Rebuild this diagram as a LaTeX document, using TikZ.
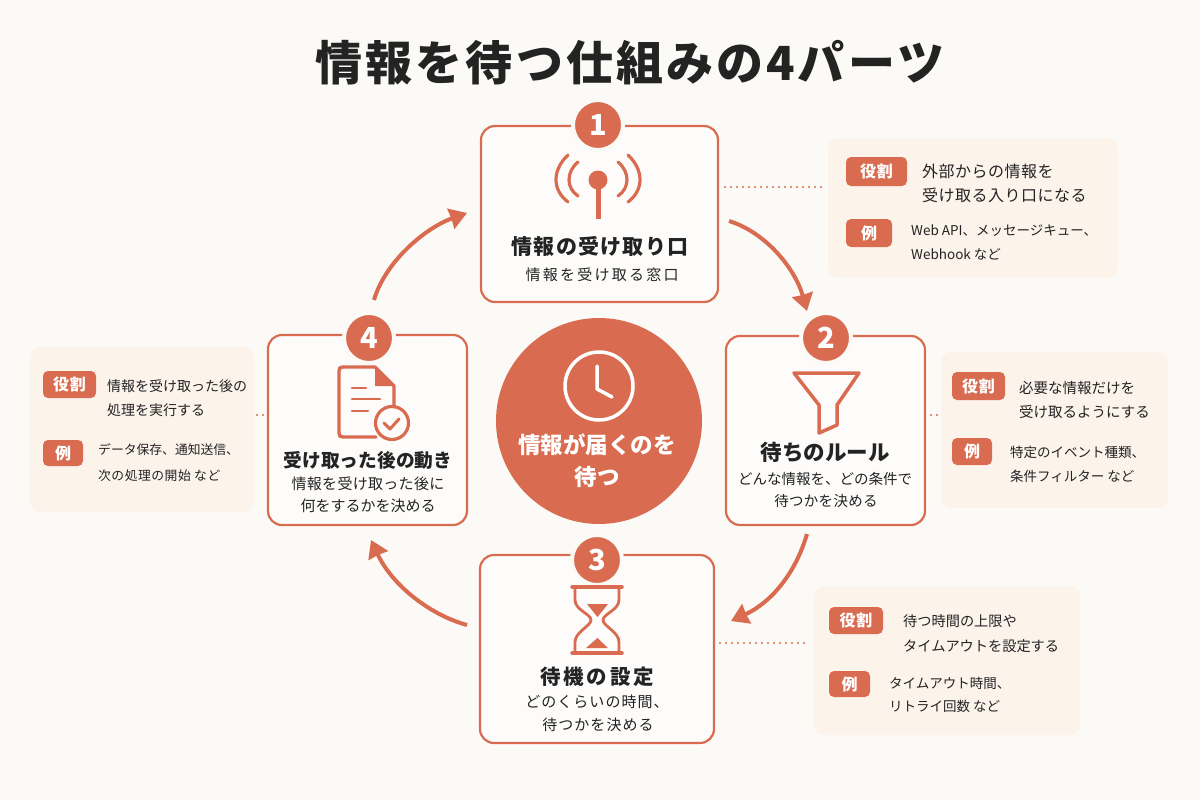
\documentclass[tikz,border=0pt]{standalone}
\usepackage{fontspec}
\setmainfont{Noto Sans CJK JP}
\usetikzlibrary{arrows.meta}
\definecolor{bgc}{HTML}{FCFAF6}
\definecolor{acc}{HTML}{D96C50}
\definecolor{panelc}{HTML}{FCF3EB}
\definecolor{inkc}{HTML}{232323}
\newcommand{\fs}[1]{\fontsize{#1}{#1}\selectfont}
\newcommand{\ls}[1]{\addfontfeatures{LetterSpace=#1}}
\tikzset{
  x=1pt,y=-1pt,
  card/.style={draw=acc,line width=2.2pt,fill=white,fill opacity=0.55,text opacity=1,rounded corners=14pt,inner sep=0pt},
  badge/.style={circle,fill=acc,draw=bgc,line width=4pt,text=white,inner sep=0pt,minimum size=50pt,font=\fs{29}\bfseries},
  panel/.style={fill=panelc,rounded corners=10pt,inner sep=0pt},
  tag/.style={fill=acc,text=white,rounded corners=5pt,inner sep=0pt,font=\fs{16}\bfseries\ls{5}},
  cardtitle/.style={text=inkc,inner sep=0pt},
  cardsub/.style={text=inkc,align=center,inner sep=0pt,text height=11pt},
  roletext/.style={text=inkc,align=left,anchor=west,inner sep=0pt},
  extext/.style={text=inkc,font=\fs{13.5},align=left,anchor=west,inner sep=0pt},
  flow/.style={draw=acc,line width=4pt,-{Stealth[length=17pt,width=21pt,inset=0.5pt]}},
  dots/.style={draw=acc,line width=2.4pt,line cap=round,dash pattern=on 0pt off 6pt},
  icon/.style={draw=acc,line width=3.5pt,line cap=round,line join=round},
}
\begin{document}
\begin{tikzpicture}
\useasboundingbox (0,0) rectangle (1200,800);
\fill[bgc] (0,0) rectangle (1200,800);
\node[text=inkc,inner sep=0pt,font=\fs{47}\bfseries\ls{6.5}] (title) at (630,63) {情報を待つ仕組みの4パーツ};
% panels
\node[panel,minimum width=290pt,minimum height=140pt] (p1) at (973,208) {};
\node[panel,minimum width=227pt,minimum height=156pt] (p2) at (1054.5,430) {};
\node[panel,minimum width=266pt,minimum height=149pt] (p3) at (947,660.5) {};
\node[panel,minimum width=224pt,minimum height=165pt] (p4) at (142,429.5) {};
% cards
\node[card,minimum width=237pt,minimum height=176pt] (c1) at (599.5,214) {};
\node[card,minimum width=199pt,minimum height=189pt] (c2) at (825.5,430.5) {};
\node[card,minimum width=234pt,minimum height=188pt] (c3) at (597,649) {};
\node[card,minimum width=199pt,minimum height=190pt] (c4) at (367.5,430) {};
% hub
\node[circle,fill=acc,minimum size=206pt,inner sep=0pt] (hub) at (599,421) {};
% badges
\node[badge] (b1) at (598,125) {1};
\node[badge] (b2) at (826,338) {2};
\node[badge] (b3) at (597,560) {3};
\node[badge] (b4) at (369,338) {4};
% flow arrows
\coordinate (a1s) at (729,221); \coordinate (a1e) at (807,311);
\coordinate (a2s) at (807,534); \coordinate (a2e) at (731,621);
\coordinate (a3s) at (467,625); \coordinate (a3e) at (371,540);
\coordinate (a4s) at (374,300); \coordinate (a4e) at (467,213);
\draw[flow] (a1s) .. controls (765,232) and (795,268) .. (a1e);
\draw[flow] (a2s) .. controls (795,575) and (770,603) .. (a2e);
\draw[flow] (a3s) .. controls (430,615) and (392,585) .. (a3e);
\draw[flow] (a4s) .. controls (385,262) and (425,228) .. (a4e);
% dotted leaders
\coordinate (d1a) at (725,187); \coordinate (d1b) at (821,187);
\coordinate (d2a) at (931,415); \coordinate (d2b) at (938,415);
\coordinate (d3a) at (720,643); \coordinate (d3b) at (806,643);
\coordinate (d4a) at (257,415); \coordinate (d4b) at (264,415);
\draw[dots] (d1a) -- (d1b);
\draw[dots] (d2a) -- (d2b);
\draw[dots] (d3a) -- (d3b);
\draw[dots] (d4a) -- (d4b);
% icon 1 antenna
\fill[acc] (598,180) circle (9.5);
\draw[icon,line width=5pt,line cap=butt] (598,185) -- (598,219);
\draw[icon,line width=3.2pt] (578,162) .. controls (566,172) and (566,188) .. (578,196);
\draw[icon,line width=3.2pt] (568,155) .. controls (552,170) and (552,190) .. (568,202);
\draw[icon,line width=3.2pt] (618,162) .. controls (630,172) and (630,188) .. (618,196);
\draw[icon,line width=3.2pt] (628,155) .. controls (644,170) and (644,190) .. (628,202);
% icon 2 funnel
\draw[icon] (794,373) -- (859,373) -- (837,405) -- (837,425) -- (819,433) -- (819,405) -- cycle;
% icon 3 hourglass
\draw[icon] (572,587) -- (622,587);
\draw[icon] (572,653) -- (622,653);
\draw[icon,line width=2.8pt] (575,587) -- (575,600) .. controls (575,610) and (591,614) .. (591,620) .. controls (591,626) and (575,632) .. (575,642) -- (575,653);
\draw[icon,line width=2.8pt] (619,587) -- (619,600) .. controls (619,610) and (603,614) .. (603,620) .. controls (603,626) and (619,632) .. (619,642) -- (619,653);
\fill[acc] (587,604) -- (608,604) -- (597.5,617) -- cycle;
\fill[acc] (597.5,638) -- (608,648) -- (586,648) -- cycle;
% icon 4 document
\draw[icon,line width=3.4pt] (376,437) -- (343,437) .. controls (340,437) and (339,436) .. (339,433) -- (339,371) .. controls (339,368) and (340,367) .. (343,367) -- (375,367) -- (394,386) -- (394,407);
\fill[acc] (375,367) -- (394,386) -- (375,386) -- cycle;
\draw[icon,line width=2.8pt] (352,388) -- (366,388);
\draw[icon,line width=2.8pt] (352,399) -- (380,399);
\draw[icon,line width=2.8pt] (352,411) -- (368,411);
\draw[icon,line width=3.2pt] (392,423) circle (16.5);
\draw[icon,line width=3pt] (384,423) -- (390,429) -- (399,419);
% clock
\draw[white,line width=3.5pt] (599,386) circle (34);
\draw[white,line width=3.5pt,line cap=round,line join=round] (597,366) -- (597,389) -- (612,397);
% hub text
\node[text=white,font=\fs{22.5}\bfseries,inner sep=0pt] (h1) at (597,445) {情報が届くのを};
\node[text=white,font=\fs{22.5}\bfseries,inner sep=0pt] (h2) at (597,477) {待つ};
% card text
\node[cardtitle,font=\fs{21}\bfseries\ls{6}] (t1) at (600,246) {情報の受け取り口};
\node[cardsub,font=\fs{15}\ls{15}] (s1) at (602,276) {情報を受け取る窓口};
\node[cardtitle,font=\fs{21.5}\bfseries] (t2) at (825,452) {待ちのルール};
\node[cardsub,font=\fs{14.5}] (s2a) at (825,480) {どんな情報を、どの条件で};
\node[cardsub,font=\fs{14.5}\ls{2}] (s2b) at (826,502) {待つかを決める};
\node[cardtitle,font=\fs{20.5}\bfseries\ls{14}] (t3) at (597,677) {待機の設定};
\node[cardsub,font=\fs{15}\ls{7}] (s3a) at (597,703) {どのくらいの時間、};
\node[cardsub,font=\fs{15}\ls{7}] (s3b) at (598,726) {待つかを決める};
\node[cardtitle,font=\fs{18.7}\bfseries] (t4) at (368,460) {受け取った後の動き};
\node[cardsub,font=\fs{15}\ls{2}] (s4a) at (368,485) {情報を受け取った後に};
\node[cardsub,font=\fs{15}] (s4b) at (368,507) {何をするかを決める};
% panel 1
\node[tag,minimum width=61pt,minimum height=29pt] (r1) at (876.5,171.5) {役割};
\node[tag,minimum width=46pt,minimum height=28pt] (e1) at (869,233) {例};
\node[roletext,font=\fs{16}\ls{3}] (r1a) at (922,171) {外部からの情報を};
\node[roletext,font=\fs{16}\ls{3}] (r1b) at (922,195) {受け取る入り口になる};
\node[extext] (e1a) at (911,231) {Web API、メッセージキュー、};
\node[extext] (e1b) at (911,254) {Webhook など};
% panel 2
\node[tag,minimum width=53pt,minimum height=28pt] (r2) at (978.5,386) {役割};
\node[tag,minimum width=40pt,minimum height=27pt] (e2) at (972,451.5) {例};
\node[roletext,font=\fs{14.5}] (r2a) at (1019,388) {必要な情報だけを};
\node[roletext,font=\fs{14.5}] (r2b) at (1019,412) {受け取るようにする};
\node[extext] (e2a) at (1010,452) {特定のイベント種類、};
\node[extext] (e2b) at (1010,476) {条件フィルター など};
% panel 3
\node[tag,minimum width=54pt,minimum height=27pt] (r3) at (856,620.5) {役割};
\node[tag,minimum width=41pt,minimum height=26pt] (e3) at (849.5,684) {例};
\node[roletext,font=\fs{14.2}] (r3a) at (903,621) {待つ時間の上限や};
\node[roletext,font=\fs{14.2}] (r3b) at (903,646) {タイムアウトを設定する};
\node[extext] (e3a) at (889,683) {タイムアウト時間、};
\node[extext] (e3b) at (889,706) {リトライ回数 など};
% panel 4
\node[tag,minimum width=53pt,minimum height=27pt] (r4) at (69.5,384.5) {役割};
\node[tag,minimum width=40pt,minimum height=26pt] (e4) at (63,453) {例};
\node[roletext,font=\fs{14}] (r4a) at (107,386) {情報を受け取った後の};
\node[roletext,font=\fs{14}] (r4b) at (107,410) {処理を実行する};
\node[extext,font=\fs{12.8}] (e4a) at (98,450) {データ保存、通知送信、};
\node[extext,font=\fs{12.8}\ls{4}] (e4b) at (98,476) {次の処理の開始 など};
\end{tikzpicture}
\end{document}
